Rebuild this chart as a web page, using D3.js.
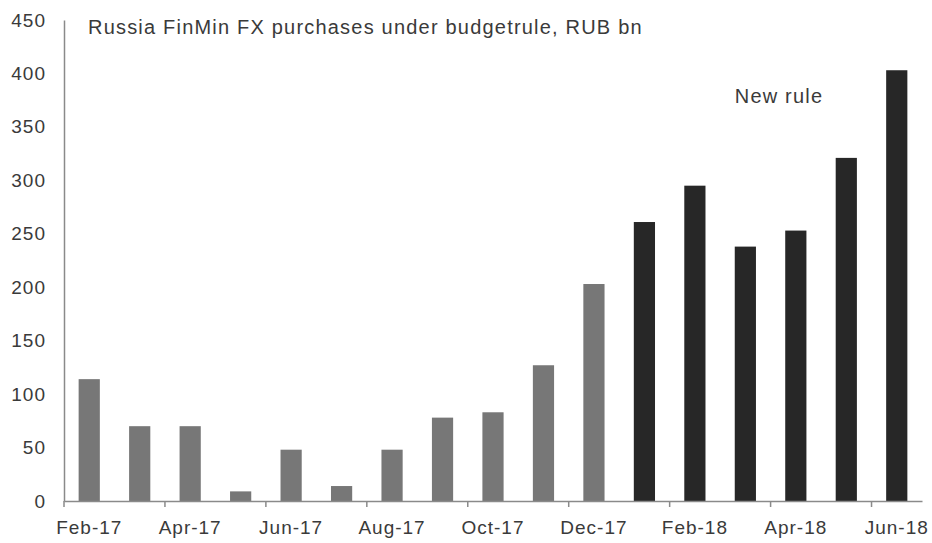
<html>
<script src="https://cdn.jsdelivr.net/npm/d3@7"></script>
<head>
    <style>
        body {
            margin: 0;
            font-family: "Liberation Sans", Arial, sans-serif;
            background: white;
        }
        text {
            fill: #3a3a3a;
        }
    </style>
</head>
<body>
    <svg id="Chart"></svg>
</body>
<script>
    // data
    let months = ["Feb-17", "Mar-17", "Apr-17", "May-17", "Jun-17", "Jul-17", "Aug-17",
        "Sep-17", "Oct-17", "Nov-17", "Dec-17", "Jan-18", "Feb-18", "Mar-18",
        "Apr-18", "May-18", "Jun-18"];
    let purchases = [114, 70, 70, 9, 48, 14, 48, 78, 83, 127, 203,
        261, 295, 238, 253, 321, 403];
    let newRule = [false, false, false, false, false, false, false, false, false, false, false,
        true, true, true, true, true, true];
    let yTicks = [0, 50, 100, 150, 200, 250, 300, 350, 400, 450];
    let labelMonths = months.filter((m, i) => i % 2 == 0);

    let title = "Russia FinMin FX purchases under budgetrule, RUB bn";
    let annotation = "New rule";

    function getConfig() {
        let width = 932;
        let height = 543;
        let margin = { top: 20, bottom: 42, left: 64, right: 10 };
        let bodyWidth = width - margin.left - margin.right;
        let bodyHeight = height - margin.top - margin.bottom;
        let container = d3.select("#Chart")
            .attr("width", width)
            .attr("height", height);
        return { width, height, margin, bodyWidth, bodyHeight, container };
    }

    function getScales(config) {
        let { bodyWidth, bodyHeight } = config;
        let xScale = d3.scaleBand()
            .domain(months)
            .range([0, bodyWidth])
            .paddingInner(0.58)
            .paddingOuter(0.29);
        let yScale = d3.scaleLinear()
            .domain([0, 450])
            .range([bodyHeight, 0]);
        return { xScale, yScale };
    }

    function drawBars(data, scales, config) {
        let { xScale, yScale } = scales;
        let { margin, container } = config;
        let body = container.append("g")
            .attr("transform", `translate(${margin.left},${margin.top})`);
        body.selectAll(".bar")
            .data(data)
            .enter()
            .append("rect")
            .attr("class", "bar")
            .attr("x", d => xScale(d.month))
            .attr("y", d => yScale(d.value))
            .attr("width", xScale.bandwidth())
            .attr("height", d => yScale(0) - yScale(d.value))
            .attr("fill", d => d.newRule ? "#272727" : "#777777");
    }

    function styleLabels(g) {
        g.selectAll("text")
            .style("font-size", "19px")
            .style("letter-spacing", "1px")
            .style("font-family", "Liberation Sans, Arial, sans-serif")
            .attr("fill", "#3a3a3a");
    }

    function drawAxes(scales, config) {
        let { xScale, yScale } = scales;
        let { margin, container, bodyHeight } = config;

        // y axis: line and labels, no tick marks
        let axisY = d3.axisLeft(yScale)
            .tickValues(yTicks)
            .tickSize(0)
            .tickPadding(18);
        let gy = container.append("g")
            .attr("transform", `translate(${margin.left},${margin.top})`)
            .call(axisY);
        gy.select(".domain").attr("stroke", "#8a8a8a").attr("stroke-width", 1.5);
        styleLabels(gy);

        // x axis: labels every other month, centred on the bars
        let axisX = d3.axisBottom(xScale)
            .tickValues(labelMonths)
            .tickSize(0)
            .tickPadding(20);
        let gx = container.append("g")
            .attr("transform", `translate(${margin.left},${margin.top + bodyHeight})`)
            .call(axisX);
        gx.select(".domain").attr("stroke", "#8a8a8a").attr("stroke-width", 1.5);
        styleLabels(gx);

        // tick marks sit between categories, every second one
        let step = xScale.step();
        gx.selectAll(".between")
            .data(labelMonths)
            .enter()
            .append("line")
            .attr("class", "between")
            .attr("x1", d => xScale(d) + xScale.bandwidth() / 2 - step / 2)
            .attr("x2", d => xScale(d) + xScale.bandwidth() / 2 - step / 2)
            .attr("y1", 0)
            .attr("y2", 6)
            .attr("stroke", "#8a8a8a")
            .attr("stroke-width", 1.5);
    }

    function drawTexts(scales, config) {
        let { xScale, yScale } = scales;
        let { margin, container } = config;
        container.append("text")
            .attr("x", 88)
            .attr("y", 34)
            .style("font-size", "20px")
            .style("letter-spacing", "1.2px")
            .text(title);
        container.append("text")
            .attr("x", margin.left + xScale("Mar-18"))
            .attr("y", margin.top + yScale(372))
            .style("font-size", "20px")
            .style("letter-spacing", "1.2px")
            .text(annotation);
    }

    function drawChart() {
        let data = months.map((m, i) => ({ month: m, value: purchases[i], newRule: newRule[i] }));
        let config = getConfig();
        let scales = getScales(config);
        drawBars(data, scales, config);
        drawAxes(scales, config);
        drawTexts(scales, config);
    }

    drawChart();
</script>
</html>
